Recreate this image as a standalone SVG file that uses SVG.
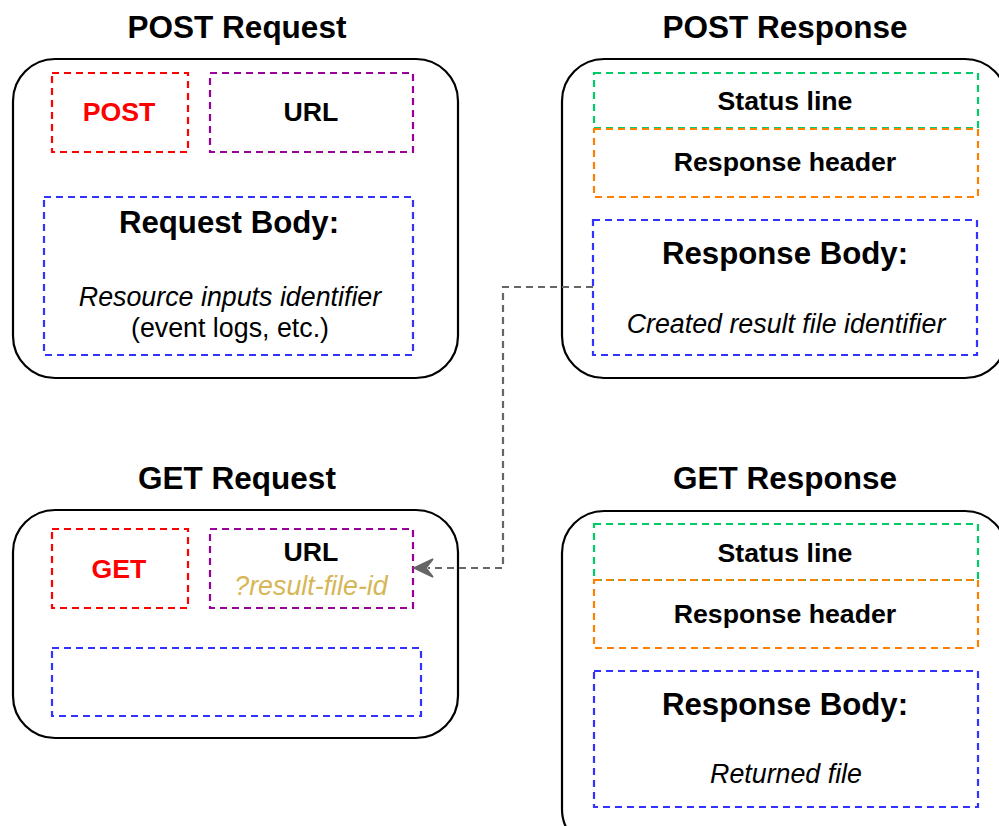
<svg xmlns="http://www.w3.org/2000/svg" width="999" height="826" viewBox="0 0 999 826">
<style>
text{font-family:"Liberation Sans",Arial,sans-serif;text-anchor:middle;fill:#000}
.title{font-size:31.5px;font-weight:bold}
.head{font-size:31.2px;font-weight:bold}
.lbl{font-size:26.7px;font-weight:bold}
.it{font-size:26.8px;font-style:italic}
.reg{font-size:26.8px}
.cont{fill:#fff;stroke:#000;stroke-width:2.2}
.d{fill:none;stroke-width:2.2;stroke-dasharray:7 5}
.red{stroke:#FF0000}
.pur{stroke:#990099}
.blu{stroke:#3333FF}
.grn{stroke:#00CC66}
.org{stroke:#FF8000}
</style>
<g id="post-request">
<text class="title" x="237" y="38">POST Request</text>
<rect class="cont" x="13" y="59" width="445" height="319" rx="42"/>
<rect class="d red" x="52" y="73" width="136" height="79"/>
<text class="lbl" x="119" y="121" style="fill:#FF0000">POST</text>
<rect class="d pur" x="210" y="73" width="203" height="79"/>
<text class="lbl" x="311" y="121">URL</text>
<rect class="d blu" x="44" y="197" width="369" height="158"/>
<text class="head" x="229" y="233">Request Body:</text>
<text class="it" x="230" y="306">Resource inputs identifier</text>
<text class="reg" x="230" y="337">(event logs, etc.)</text>
</g>
<g id="post-response">
<text class="title" x="785" y="38">POST Response</text>
<rect class="cont" x="562" y="59" width="445" height="319" rx="42"/>
<rect class="d grn" x="594" y="73" width="384" height="55"/>
<text class="lbl" x="785" y="110">Status line</text>
<rect class="d org" x="594" y="129" width="384" height="68"/>
<text class="lbl" x="785" y="171">Response header</text>
<rect class="d blu" x="593" y="220" width="384" height="135"/>
<text class="head" x="785" y="264">Response Body:</text>
<text class="it" x="786" y="333">Created result file identifier</text>
</g>
<g id="get-request">
<text class="title" x="237" y="489">GET Request</text>
<rect class="cont" x="13" y="510" width="445" height="228" rx="42"/>
<rect class="d red" x="52" y="529" width="136" height="79"/>
<text class="lbl" x="119" y="578" style="fill:#FF0000">GET</text>
<rect class="d pur" x="210" y="529" width="203" height="79"/>
<text class="lbl" x="311" y="561">URL</text>
<text class="it" x="311" y="595" style="fill:#D6B656">?result-file-id</text>
<rect class="d blu" x="52" y="648" width="369" height="68"/>
</g>
<g id="get-response">
<text class="title" x="785" y="489">GET Response</text>
<rect class="cont" x="562" y="511" width="445" height="340" rx="42"/>
<rect class="d grn" x="594" y="524" width="384" height="56"/>
<text class="lbl" x="785" y="562">Status line</text>
<rect class="d org" x="594" y="580" width="384" height="68"/>
<text class="lbl" x="785" y="623">Response header</text>
<rect class="d blu" x="594" y="671" width="384" height="136"/>
<text class="head" x="785" y="715">Response Body:</text>
<text class="it" x="786" y="783">Returned file</text>
</g>
<g id="connectors">
<path d="M593 287 H503 V568 H428" fill="none" stroke="#666666" stroke-width="2.2" stroke-dasharray="7 5"/>
<path d="M414 568 L433 559 L426 568 L433 577 Z" fill="#666666" stroke="#666666" stroke-width="1.5" stroke-linejoin="miter"/>
</g>
</svg>
